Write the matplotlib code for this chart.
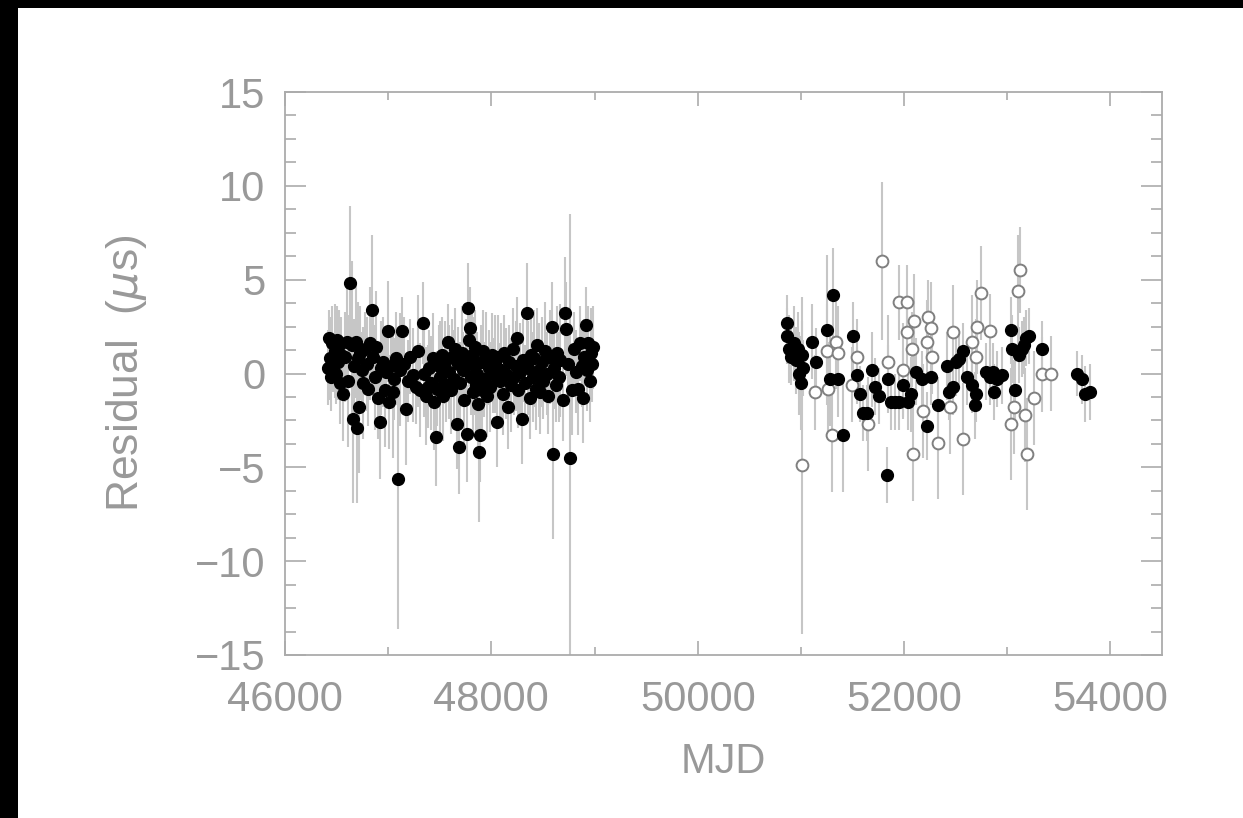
import matplotlib
matplotlib.use("Agg")
import matplotlib.pyplot as plt
from matplotlib.patches import Rectangle
from matplotlib.ticker import MultipleLocator

# ---- data: early epoch (filled) ----
mjd_a = [46420, 46430, 46440, 46450, 46460, 46470, 46480, 46490, 46500, 46510,
         46520, 46530, 46545, 46562, 46580, 46600, 46615, 46630, 46645, 46659,
         46672, 46685, 46697, 46710, 46717, 46730, 46745, 46760, 46775, 46790,
         46805, 46820, 46840, 46855, 46870, 46885, 46900, 46920, 46935, 46950,
         46965, 46980, 46998, 47010, 47025, 47046, 47060, 47080, 47094, 47110,
         47133, 47150, 47172, 47190, 47215, 47240, 47265, 47290, 47310, 47337,
         47350, 47370, 47385, 47400, 47415, 47430, 47445, 47462, 47475, 47490,
         47505, 47520, 47535, 47550, 47565, 47578, 47590, 47605, 47620, 47635,
         47650, 47665, 47680, 47685, 47700, 47712, 47725, 47738, 47750, 47763,
         47773, 47785, 47795, 47800, 47810, 47820, 47830, 47840, 47850, 47860,
         47870, 47879, 47889, 47900, 47910, 47920, 47930, 47945, 47960, 47975,
         47990, 48005, 48020, 48035, 48053, 48065, 48080, 48095, 48110, 48125,
         48140, 48160, 48175, 48190, 48205, 48220, 48235, 48247, 48260, 48275,
         48295, 48310, 48325, 48343, 48355, 48370, 48385, 48400, 48415, 48430,
         48445, 48460, 48475, 48490, 48505, 48520, 48535, 48550, 48565, 48586,
         48596, 48610, 48625, 48640, 48655, 48670, 48690, 48712, 48725, 48740,
         48760, 48780, 48800, 48820, 48840, 48860, 48875, 48886, 48900, 48915,
         48925, 48940, 48955, 48965, 48975, 48985]
res_a = [0.3, 1.9, 0.8, -0.2, 1.6, 0.5, 1.2, 0.0, 1.8, 0.6,
         1.5, -0.5, 1.0, -1.1, 0.9, 1.7, -0.4, 4.8, 1.5, -2.4,
         0.4, 1.7, -2.9, 0.8, -1.8, 1.1, 0.2, -0.5, 1.3, 0.5,
         -0.8, 1.6, 3.4, 0.9, -0.2, 1.4, -1.3, -2.6, 0.3, 0.6,
         -0.9, 0.1, 2.25, -1.5, 0.4, -1.0, -0.3, 0.8, -5.6, 0.2,
         2.25, 0.5, -1.9, -0.4, 0.9, -0.1, -0.7, 1.2, -0.9, 2.7,
         0.0, -1.2, -0.7, 0.3, -0.5, 0.8, -1.5, -3.4, -0.8, 0.4,
         -0.2, 1.0, -1.2, 0.6, -0.6, 1.7, 0.1, -0.9, 0.9, -0.3,
         1.3, -2.7, 0.5, -3.9, -0.5, 1.1, 0.2, -1.4, 0.7, -3.2,
         3.5, 1.8, 2.4, -0.2, 1.0, -1.0, 0.4, 1.4, -0.6, 0.0,
         -1.6, -4.2, -3.3, 0.6, -0.9, 1.2, -0.3, 0.8, -1.2, 0.3,
         -0.7, 1.0, -0.1, 0.5, -2.6, 0.9, -0.4, 0.2, -1.1, 1.1,
         0.0, -1.8, 0.6, -0.6, 1.3, -0.2, 0.4, 1.9, -0.9, 0.1,
         -2.4, 0.7, -0.5, 3.2, 0.3, -1.3, 1.0, -0.2, 0.8, -0.8,
         1.5, 0.2, -1.0, 0.6, -0.4, 1.2, 0.0, -1.2, 0.9, 2.5,
         -4.3, 0.3, -0.6, 1.1, -0.2, 0.7, -1.4, 3.2, 2.35, 0.5,
         -4.5, -0.9, 1.3, 0.1, -0.8, 1.6, 0.4, -1.3, 0.9, 2.6,
         0.2, 1.6, -0.4, 1.1, 0.5, 1.4]
err_a = [2.0, 1.5, 2.2, 1.8, 2.0, 1.5, 2.5, 1.6, 1.8, 2.0,
         1.9, 2.2, 2.0, 2.5, 2.4, 3.0, 3.5, 4.1, 4.5, 4.5,
         2.5, 3.0, 4.0, 3.0, 3.5, 2.5, 2.0, 3.0, 2.0, 2.5,
         2.0, 3.0, 4.0, 2.2, 2.8, 3.0, 2.2, 3.0, 2.5, 2.4,
         3.0, 2.0, 2.7, 2.5, 2.0, 3.5, 2.2, 2.5, 8.0, 3.0,
         1.8, 2.5, 3.0, 2.2, 2.0, 2.5, 2.0, 3.0, 2.5, 2.2,
         2.3, 2.6, 2.2, 2.0, 2.5, 2.4, 2.6, 2.6, 2.0, 2.2,
         3.0, 2.0, 2.4, 2.2, 2.0, 2.0, 2.5, 2.3, 2.0, 2.6,
         2.2, 2.4, 2.0, 2.5, 2.2, 2.5, 2.0, 2.4, 2.2, 2.6,
         2.4, 2.5, 2.2, 2.0, 2.4, 2.2, 2.6, 2.0, 2.5, 2.2,
         2.4, 3.7, 2.5, 2.0, 2.6, 2.2, 2.0, 2.5, 2.2, 2.0,
         2.4, 2.2, 2.0, 2.6, 2.4, 2.2, 2.0, 2.5, 2.2, 2.0,
         2.4, 2.2, 2.0, 2.5, 2.2, 2.0, 2.4, 2.2, 2.0, 2.6,
         2.4, 2.2, 2.0, 2.7, 2.5, 2.2, 2.0, 2.4, 2.6, 2.2,
         2.0, 2.5, 2.2, 2.4, 2.0, 2.6, 2.2, 2.0, 2.5, 2.4,
         4.5, 2.2, 2.0, 2.5, 2.4, 3.0, 2.2, 3.0, 2.5, 2.2,
         13.0, 2.4, 2.0, 2.2, 2.5, 2.0, 2.2, 2.4, 2.0, 2.0,
         2.2, 2.0, 2.2, 2.4, 2.0, 2.2]

# ---- data: late epoch (filled) ----
mjd_b = [50862, 50870, 50885, 50900, 50930, 50950, 50970, 50985, 51000, 51010,
         51020, 51104, 51143, 51249, 51307, 51285, 51360, 51404, 51501, 51540,
         51569, 51600, 51640, 51685, 51720, 51760, 51830, 51845, 51870, 51910,
         51950, 51985, 52034, 52070, 52120, 52170, 52218, 52260, 52325, 52412,
         52440, 52470, 52500, 52530, 52575, 52610, 52660, 52700, 52690, 52790,
         52830, 52860, 52900, 52870, 52950, 53041, 53050, 53080, 53110, 53140,
         53160, 53185, 53210, 53340, 53680, 53720, 53750, 53800]
res_b = [2.7, 2.0, 1.3, 0.9, 1.6, 0.7, 1.3, 0.0, -0.5, 1.0,
         0.3, 1.7, 0.6, 2.3, 4.2, -0.3, -0.3, -3.3, 2.0, -0.1,
         -1.1, -2.1, -2.1, 0.2, -0.7, -1.2, -5.4, -0.3, -1.5, -1.5,
         -1.5, -0.6, -1.5, -1.1, 0.1, -0.3, -2.8, -0.2, -1.7, 0.4,
         -1.0, -0.7, 0.6, 0.75, 1.2, -0.2, -0.6, -1.1, -1.7, 0.1,
         -0.2, 0.1, -0.3, -1.0, -0.1, 2.3, 1.3, -0.9, 1.0, 1.3,
         1.5, 1.9, 2.0, 1.3, 0.0, -0.3, -1.1, -1.0]
err_b = [1.5, 1.5, 1.8, 1.5, 2.0, 1.8, 2.0, 2.2, 2.5, 1.8,
         1.5, 2.0, 1.8, 4.0, 2.5, 2.5, 2.0, 3.0, 1.8, 1.5,
         1.5, 1.5, 1.5, 2.0, 1.5, 1.5, 1.5, 1.8, 1.5, 1.5,
         1.5, 1.8, 1.5, 2.0, 1.8, 1.5, 1.8, 1.5, 1.5, 1.8,
         1.5, 1.5, 1.8, 1.5, 1.5, 1.5, 1.5, 1.5, 1.8, 1.5,
         1.5, 1.5, 1.5, 1.5, 1.5, 1.8, 1.8, 2.0, 1.5, 1.5,
         1.5, 1.5, 1.5, 1.5, 1.2, 1.3, 1.5, 1.5]

# ---- data: late epoch (open circles) ----
mjd_c = [51790, 53120, 53100, 52750, 51955, 52024, 52100, 52230, 52030, 52260,
         52220, 52080, 52270, 52470, 52710, 52830, 52660, 52700, 51344, 51249,
         51356, 51540, 51840, 51985, 51492, 51133, 51259, 52180, 52442, 51646,
         51007, 51300, 52085, 52333, 52576, 53040, 53070, 53176, 53196, 53260,
         53340, 53420]
res_c = [6.0, 5.5, 4.4, 4.3, 3.8, 3.8, 2.8, 3.0, 2.2, 2.4,
         1.7, 1.3, 0.9, 2.2, 2.5, 2.25, 1.7, 0.9, 1.7, 1.2,
         1.1, 0.9, 0.6, 0.2, -0.6, -1.0, -0.8, -2.0, -1.8, -2.7,
         -4.9, -3.3, -4.3, -3.7, -3.5, -2.7, -1.8, -2.2, -4.3, -1.3,
         -0.05, 0.0]
err_c = [4.2, 2.3, 3.0, 2.5, 2.0, 2.0, 2.5, 2.0, 2.0, 2.5,
         2.2, 2.0, 2.0, 2.5, 2.5, 2.0, 2.5, 2.0, 2.5, 2.5,
         2.5, 2.0, 2.5, 2.5, 2.0, 2.0, 2.5, 2.5, 2.5, 2.5,
         9.0, 3.0, 2.5, 3.0, 3.0, 3.0, 2.5, 2.5, 3.0, 2.5,
         2.0, 2.0]

x_ticks = [46000, 48000, 50000, 52000, 54000]
y_ticks = [-15, -10, -5, 0, 5, 10, 15]

W, H = 1243, 818
fig = plt.figure(figsize=(W / 100, H / 100), dpi=100)
fig.patch.set_facecolor("white")
fig.patches.append(Rectangle((0, 0), 18 / W, 1, transform=fig.transFigure,
                             facecolor="black", edgecolor="none", zorder=0))
fig.patches.append(Rectangle((0, 1 - 8 / H), 1, 8 / H, transform=fig.transFigure,
                             facecolor="black", edgecolor="none", zorder=0))

left, right, top, bottom = 285, 1162, 92, 655
ax = fig.add_axes([left / W, 1 - bottom / H, (right - left) / W, (bottom - top) / H])

ecol = "#c6c6c6"
ax.errorbar(mjd_a, res_a, yerr=err_a, fmt="none", ecolor=ecol, elinewidth=1.5, capsize=0, zorder=1)
ax.errorbar(mjd_b, res_b, yerr=err_b, fmt="none", ecolor=ecol, elinewidth=1.5, capsize=0, zorder=1)
ax.errorbar(mjd_c, res_c, yerr=err_c, fmt="none", ecolor=ecol, elinewidth=1.5, capsize=0, zorder=1)
ax.plot(mjd_c, res_c, linestyle="none", marker="o", markersize=8.5, markerfacecolor="white",
        markeredgecolor="#808080", markeredgewidth=1.4, zorder=2)
ax.plot(mjd_a, res_a, linestyle="none", marker="o", markersize=8.5, color="black", zorder=3)
ax.plot(mjd_b, res_b, linestyle="none", marker="o", markersize=8.5, color="black", zorder=3)

ax.set_xlim(46000, 54500)
ax.set_ylim(-15, 15)
ax.set_xticks(x_ticks)
ax.set_yticks(y_ticks)
ax.xaxis.set_minor_locator(MultipleLocator(1000))
ax.yaxis.set_minor_locator(MultipleLocator(1.25))

gray = "#ababab"
tcol = "#999999"
for s in ax.spines.values():
    s.set_color(gray)
    s.set_linewidth(1.3)
ax.tick_params(axis="both", which="both", direction="in", top=True, right=True, color=gray, width=1.2)
ax.tick_params(axis="x", which="major", length=10, pad=18)
ax.tick_params(axis="x", which="minor", length=6)
ax.tick_params(axis="y", which="major", length=15, pad=14)
ax.tick_params(axis="y", which="minor", length=8)

font = "Liberation Sans"
for lab in ax.get_xticklabels() + ax.get_yticklabels():
    lab.set_fontfamily(font)
    lab.set_fontsize(30)
    lab.set_color(tcol)

ax.set_xlabel("MJD", fontsize=30, color=tcol, fontfamily=font)
ax.set_ylabel(r"Residual  ($\mu$s)", fontsize=32, color=tcol, fontfamily=font)
ax.xaxis.set_label_coords(0.5, -0.155)
ax.yaxis.set_label_coords(-0.155, 0.5)

fig.savefig("out.png", dpi=100, facecolor="white")
